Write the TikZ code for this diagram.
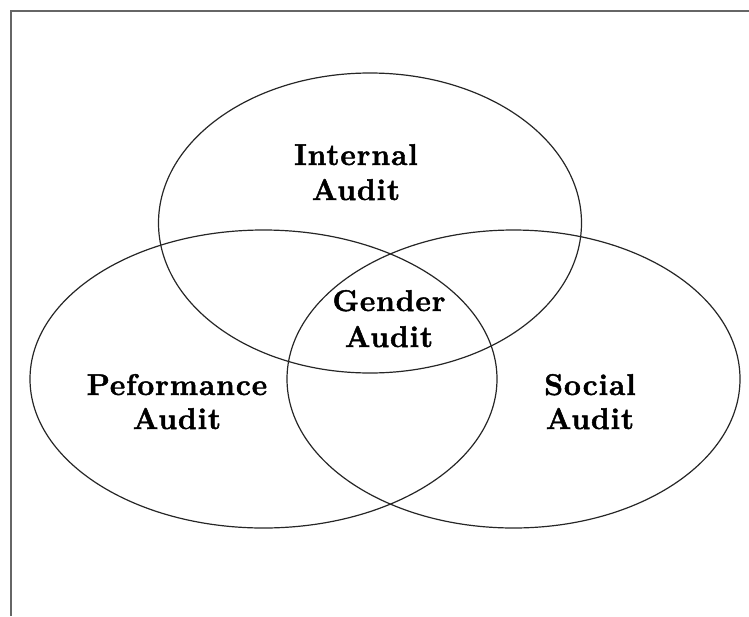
\documentclass[tikz,border=0pt]{standalone}
\usepackage{fontspec}
\newfontfamily\lblfont[LetterSpace=3,BoldFeatures={FakeBold=1.6}]{Latin Modern Roman}
\begin{document}
\begin{tikzpicture}[x=1pt,y=-1pt,
  circ/.style={draw=black!85,line width=1.2pt},
  frame/.style={draw=black!60,line width=2pt},
  lbl/.style={anchor=base,inner sep=0pt,font=\fontsize{30}{35}\lblfont\bfseries}]
\useasboundingbox (0,0) rectangle (749,616);
\draw[frame] (11,616) -- (11,11) -- (749,11);
\draw[circ] (370,223) ellipse (211.5 and 150);
\draw[circ] (263.5,379) ellipse (233.5 and 149);
\draw[circ] (513.5,379) ellipse (226.5 and 149);
\node[lbl] (int1) at (356,165) {Internal};
\node[lbl] (int2) at (356,200) {Audit};
\node[lbl] (gen1) at (389,311) {Gender};
\node[lbl] (gen2) at (389,347) {Audit};
\node[lbl] (perf1) at (177,395) {Peformance};
\node[lbl] (perf2) at (177,429) {Audit};
\node[lbl] (soc1) at (590,395) {Social};
\node[lbl] (soc2) at (590,429) {Audit};
\end{tikzpicture}
\end{document}
